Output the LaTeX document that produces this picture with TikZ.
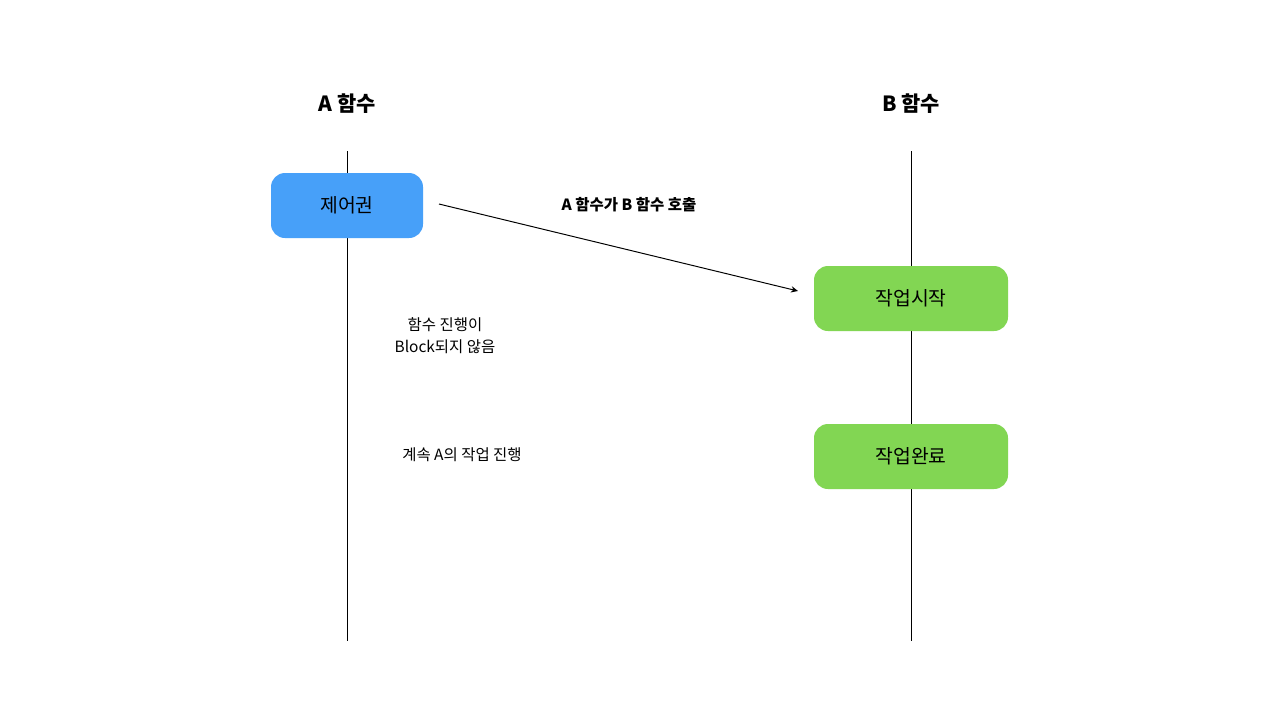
\documentclass[tikz,border=0pt]{standalone}
\usepackage{fontspec}
\setmainfont{Noto Sans CJK KR}
\usetikzlibrary{arrows.meta}
\definecolor{ctrlblue}{HTML}{47A0F9}
\definecolor{workgreen}{HTML}{82D653}
\begin{document}
\begin{tikzpicture}[x=0.1mm, y=-0.1mm,
    lifeline/.style={line width=0.28pt, black},
    taskbox/.style={rounded corners=1.4mm, minimum width=19.4mm, minimum height=6.5mm,
        inner sep=0pt, font=\fontsize{5.5pt}{6.5pt}\selectfont},
    title/.style={font=\fontsize{5.95pt}{7pt}\selectfont\bfseries},
    note/.style={font=\fontsize{4.4pt}{6.3pt}\selectfont, align=center}]
    % Marco
    \fill[white] (0,0) rectangle (1280,720);

    % Titulos
    \node[title] (titA) at (347,104) {A 함수};
    \node[title] (titB) at (911,104) {B 함수};

    % Lineas de vida
    \coordinate (Atop) at (347,151);  \coordinate (Abot) at (347,641);
    \coordinate (Btop) at (911,151);  \coordinate (Bbot) at (911,641);
    \draw[lifeline] (Atop) -- (Abot);
    \draw[lifeline] (Btop) -- (Bbot);

    % Cajas
    \node[taskbox, fill=ctrlblue, minimum width=15.2mm] (ctrl) at (347,205.5) {제어권};
    \node[taskbox, fill=workgreen] (start) at (911,298.5) {작업시작};
    \node[taskbox, fill=workgreen] (done)  at (911,456.5) {작업완료};

    % Llamada de A a B
    \coordinate (callS) at (439,204);
    \coordinate (callE) at (798,291);
    \draw[-{Stealth[length=2pt, width=1.8pt]}, line width=0.28pt] (callS) -- (callE);
    \node[note, font=\fontsize{4.4pt}{6pt}\selectfont\bfseries] (callLbl) at (629,205) {A 함수가 B 함수 호출};

    % Notas
    \node[note] (noBlock) at (445,336) {함수 진행이\\Block되지 않음};
    \node[note] (goOn) at (462,455) {계속 A의 작업 진행};
\end{tikzpicture}
\end{document}
